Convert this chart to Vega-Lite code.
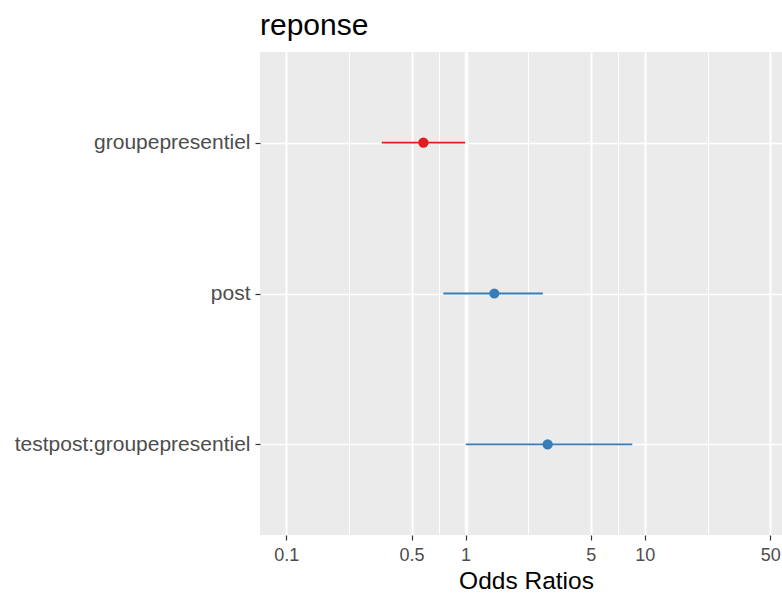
{
  "$schema": "https://vega.github.io/schema/vega-lite/v6.json",
  "width": 522,
  "height": 483,
  "autosize": {"type": "none"},
  "padding": {"left": 260, "top": 52, "right": 0, "bottom": 59},
  "background": "white",
  "title": {"text": "reponse", "anchor": "start", "frame": "group", "fontSize": 30, "font": "Liberation Sans", "fontWeight": "normal", "color": "black", "offset": 11},
  "config": {"view": {"fill": "#EBEBEB", "stroke": null}, "font": "Liberation Sans"},
  "data": {"values": [
    {"term": "groupepresentiel", "estimate": 0.582, "low": 0.341, "high": 0.995, "dir": "neg"},
    {"term": "post", "estimate": 1.447, "low": 0.752, "high": 2.70, "dir": "pos"},
    {"term": "testpost:groupepresentiel", "estimate": 2.87, "low": 1.003, "high": 8.51, "dir": "pos"}
  ]},
  "encoding": {
    "y": {
      "field": "term", "type": "nominal",
      "scale": {"type": "point", "domain": ["groupepresentiel", "post", "testpost:groupepresentiel"], "padding": 0.6},
      "axis": {"title": null, "domain": false, "grid": true, "gridColor": "white", "gridWidth": 1.6, "tickColor": "#333333", "tickSize": 5, "tickWidth": 1.2, "labelColor": "#4D4D4D", "labelFontSize": 21, "labelPadding": 5, "labelLimit": 0, "labelFont": "Liberation Sans"}
    },
    "color": {"field": "dir", "type": "nominal", "scale": {"domain": ["neg", "pos"], "range": ["#E41A1C", "#377EB8"]}, "legend": null}
  },
  "layer": [
    {
      "mark": {"type": "rule", "strokeWidth": 1.8},
      "encoding": {
        "x": {
          "field": "low", "type": "quantitative",
          "scale": {"type": "log", "domain": [0.0714, 58.2], "nice": false},
          "axis": {
            "title": "Odds Ratios", "titleFontSize": 24.5, "titleFontWeight": "normal", "titleColor": "black", "titlePadding": 5, "titleX": 266, "titleFont": "Liberation Sans",
            "values": [0.1, 0.2236, 0.5, 0.7071, 1, 2.236, 5, 7.071, 10, 22.36, 50],
            "labelExpr": "indexof([0.1, 0.5, 1, 5, 10, 50], datum.value) >= 0 ? '' + datum.value : ''",
            "labelOverlap": false, "labelFlush": false, "labelBound": false,
            "labelColor": "#4D4D4D", "labelFontSize": 18, "labelPadding": 6, "labelFont": "Liberation Sans",
            "domain": false,
            "tickColor": "#333333", "tickSize": 5, "tickWidth": 1.2,
            "tickOpacity": {"condition": {"test": "indexof([0.1, 0.5, 1, 5, 10, 50], datum.value) < 0", "value": 0}, "value": 1},
            "grid": true, "gridColor": "white",
            "gridWidth": {"condition": [{"test": "datum.value == 1", "value": 3.5}, {"test": "indexof([0.1, 0.5, 1, 5, 10, 50], datum.value) < 0", "value": 1}], "value": 2}
          }
        },
        "x2": {"field": "high"}
      }
    },
    {
      "mark": {"type": "point", "filled": true, "size": 105, "opacity": 1},
      "encoding": {
        "x": {"field": "estimate", "type": "quantitative"}
      }
    }
  ]
}
